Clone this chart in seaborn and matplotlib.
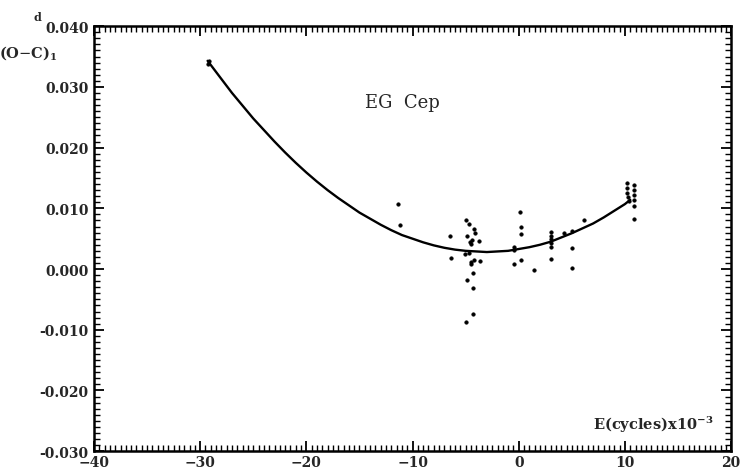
import matplotlib
matplotlib.use("Agg")
import matplotlib.pyplot as plt
import seaborn as sns
import pandas as pd
from matplotlib.ticker import MultipleLocator, FormatStrFormatter

# ----------------------------
# Data
# ----------------------------
# fitted quadratic ephemeris curve
curve_e = [-29.3, -28, -27, -26, -25, -24, -23, -22, -21, -20, -19, -18, -17, -16, -15,
           -14, -13, -12, -11, -10, -9, -8, -7, -6, -5, -4, -3, -2, -1, 0, 1, 2, 3, 4,
           5, 6, 7, 8, 9, 10, 10.5]
curve_oc = [0.0343, 0.0313, 0.0290, 0.0269, 0.0248, 0.0229, 0.0210, 0.0192, 0.0175,
            0.0159, 0.0144, 0.0130, 0.0117, 0.0105, 0.0093, 0.0083, 0.0073, 0.0064,
            0.0056, 0.0050, 0.0044, 0.0039, 0.0035, 0.0032, 0.0030, 0.0029, 0.0028,
            0.0029, 0.0030, 0.0033, 0.0036, 0.0040, 0.0045, 0.0052, 0.0059, 0.0067,
            0.0075, 0.0085, 0.0096, 0.0107, 0.0114]

# individual minima
obs_e = [-29.3, -29.2,
         -11.4, -11.2, -6.5, -6.35,
         -5.0, -4.65, -4.2, -4.15, -4.9, -4.4, -4.6, -3.7, -4.5, -4.7,
         -5.1, -4.2, -3.65, -4.5, -4.45, -4.3, -4.85, -4.3, -4.3, -5.0,
         0.1, 0.25, 0.2, 0.2, -0.4, -0.4, -0.4, 1.45,
         3.0, 3.0, 3.0, 3.0, 3.0, 3.0,
         4.3, 5.05, 5.05, 5.05, 6.15,
         10.2, 10.2, 10.2, 10.3, 10.4, 10.9, 10.9, 10.9, 10.9, 10.9, 10.9]
obs_oc = [0.0337, 0.0343,
          0.0107, 0.0072, 0.0055, 0.0019,
          0.0080, 0.0074, 0.0066, 0.0059, 0.0055, 0.0048, 0.0044, 0.0046, 0.0041, 0.0027,
          0.0025, 0.0015, 0.0014, 0.0012, 0.0008, -0.0007, -0.0018, -0.0032, -0.0074, -0.0088,
          0.0094, 0.0069, 0.0057, 0.0015, 0.0036, 0.0031, 0.0009, -0.0002,
          0.0061, 0.0055, 0.0049, 0.0043, 0.0037, 0.0016,
          0.0060, 0.0063, 0.0035, 0.0002, 0.0080,
          0.0142, 0.0134, 0.0126, 0.0119, 0.0112, 0.0139, 0.0131, 0.0122, 0.0113, 0.0104, 0.0082]

x_ticks = [-40, -30, -20, -10, 0, 10, 20]
y_ticks = [-0.030, -0.020, -0.010, 0.000, 0.010, 0.020, 0.030, 0.040]

curve = pd.DataFrame({"E": curve_e, "OC": curve_oc})
obs = pd.DataFrame({"E": obs_e, "OC": obs_oc})

# ----------------------------
# Plot
# ----------------------------
sns.set_style("ticks")
plt.rcParams["font.family"] = ["DejaVu Serif"]
plt.rcParams["mathtext.fontset"] = "dejavuserif"
plt.rcParams["axes.unicode_minus"] = True

fig = plt.figure(figsize=(7.4, 4.77), dpi=100)
ax = fig.add_axes([0.127, 0.052, 0.861, 0.891])

sns.lineplot(data=curve, x="E", y="OC", sort=False, estimator=None,
             color="black", linewidth=1.7, ax=ax)
sns.scatterplot(data=obs, x="E", y="OC", color="black", s=7,
                edgecolor="black", linewidth=0.3, ax=ax)

ax.set_xlim(-40, 20)
ax.set_ylim(-0.030, 0.040)
ax.set_xticks(x_ticks)
ax.set_yticks(y_ticks)
ax.xaxis.set_minor_locator(MultipleLocator(0.5))
ax.yaxis.set_minor_locator(MultipleLocator(0.001))
ax.yaxis.set_major_formatter(FormatStrFormatter("%.3f"))
ax.set_xlabel("")
ax.set_ylabel("")

for side in ax.spines.values():
    side.set_linewidth(1.8)
    side.set_color("black")

ax.tick_params(which="both", direction="in", top=True, right=True, color="black")
ax.tick_params(which="major", length=7, width=1.3, labelsize=10)
ax.tick_params(which="minor", length=4, width=1.0)
for lab in ax.get_xticklabels() + ax.get_yticklabels():
    lab.set_fontweight("bold")
ax.tick_params(axis="x", pad=3)
ax.tick_params(axis="y", pad=4)

# annotations
ax.text(-11, 0.0275, "EG  Cep", fontsize=13, ha="center", va="center")
ax.text(18.3, -0.0255, r"E(cycles)x10$^{\mathbf{-3}}$", fontsize=10.5, fontweight="bold",
        ha="right", va="center")
fig.text(0.038, 0.889, r"(O$-$C)$_\mathbf{1}$", fontsize=10.5, fontweight="bold",
         ha="center", va="center")
fig.text(0.051, 0.963, "d", fontsize=8, fontweight="bold", ha="center", va="center")

fig.savefig("out.png", dpi=100)
plt.close(fig)
